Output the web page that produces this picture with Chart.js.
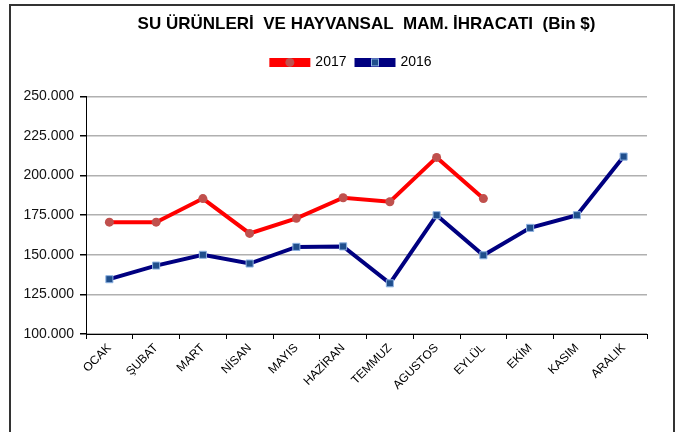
<!DOCTYPE html>
<html>
<head>
<meta charset="utf-8">
<script src="https://cdn.jsdelivr.net/npm/chart.js@4"></script>
<style>
  html, body { margin: 0; padding: 0; background: #fff; }
  #wrap { position: relative; width: 681px; height: 432px; overflow: hidden; }
  #frame { position: absolute; left: 9px; top: 4px; width: 666px; height: 460px; border: 2px solid #333; box-sizing: border-box; }
  canvas { position: absolute; left: 0; top: 0; }
</style>
</head>
<body>
<div id="wrap">
  <div id="frame"></div>
  <canvas id="c" width="681" height="432"></canvas>
</div>
<script>
// Months
const months = ['OCAK','ŞUBAT','MART','NİSAN','MAYIS','HAZİRAN','TEMMUZ','AGUSTOS','EYLÜL','EKİM','KASIM','ARALIK'];
// Exports (Bin $)
const exports2017 = [170600, 170600, 185500, 163500, 173000, 186000, 183500, 211500, 185500, null, null, null];
const exports2016 = [134600, 143200, 150000, 144500, 155000, 155300, 132000, 175000, 149700, 167000, 175000, 212000];
// Y tick labels
const yTickValues = [100000, 125000, 150000, 175000, 200000, 225000, 250000];
const yTickLabels = ['100.000','125.000','150.000','175.000','200.000','225.000','250.000'];

const FONT = "'Liberation Sans', Arial, sans-serif";
const LEGEND_SHIFT = 28;

const legendShift = {
  id: 'legendShift',
  afterLayout(chart) {
    const lg = chart.legend;
    if (!lg) return;
    lg.left += LEGEND_SHIFT;
    lg.right += LEGEND_SHIFT;
  }
};

const legendMarkers = {
  id: 'legendMarkers',
  afterDraw(chart) {
    const lg = chart.legend;
    if (!lg || !lg.legendHitBoxes) return;
    const ctx = chart.ctx;
    const bw = lg.options.labels.boxWidth;
    lg.legendHitBoxes.forEach((hb, i) => {
      const ds = chart.data.datasets[i];
      const cx = hb.left + bw / 2;
      const cy = hb.top + hb.height / 2;
      ctx.save();
      ctx.fillStyle = ds.pointBackgroundColor;
      ctx.strokeStyle = ds.pointBorderColor;
      ctx.lineWidth = ds.pointBorderWidth;
      if (ds.pointStyle === 'rect') {
        const s = ds.pointRadius * 1.4;
        ctx.fillRect(cx - s / 2, cy - s / 2, s, s);
        ctx.strokeRect(cx - s / 2, cy - s / 2, s, s);
      } else {
        ctx.beginPath();
        ctx.arc(cx, cy, ds.pointRadius, 0, Math.PI * 2);
        ctx.fill();
      }
      ctx.restore();
    });
  }
};

new Chart(document.getElementById('c'), {
  type: 'line',
  data: {
    labels: months,
    datasets: [
      {
        label: '2017',
        data: exports2017,
        borderColor: '#ff0000',
        backgroundColor: '#ff0000',
        borderWidth: 4,
        pointStyle: 'circle',
        pointRadius: 4.5,
        pointBackgroundColor: '#c0504d',
        pointBorderColor: '#c0504d',
        pointBorderWidth: 0,
        tension: 0,
        spanGaps: false
      },
      {
        label: '2016',
        data: exports2016,
        borderColor: '#000080',
        backgroundColor: '#000080',
        borderWidth: 4,
        pointStyle: 'rect',
        pointRadius: 5,
        pointBackgroundColor: '#1f4e8c',
        pointBorderColor: '#8fb4e3',
        pointBorderWidth: 1,
        tension: 0
      }
    ]
  },
  options: {
    responsive: false,
    animation: false,
    devicePixelRatio: 1,
    layout: { padding: { left: 0, right: 34, top: 0, bottom: 0 } },
    plugins: {
      title: {
        display: true,
        fullSize: false,
        text: 'SU ÜRÜNLERİ  VE HAYVANSAL  MAM. İHRACATI  (Bin $)',
        color: '#000',
        font: { family: FONT, size: 17, weight: 'bold', lineHeight: 1.2 },
        padding: { top: 14, bottom: 11 },
        align: 'center'
      },
      subtitle: {
        display: true,
        text: '',
        position: 'top',
        weight: 500,
        font: { size: 10, lineHeight: 1 },
        padding: { top: 3.5, bottom: 3.5 }
      },
      legend: {
        display: true,
        position: 'top',
        labels: {
          boxWidth: 37,
          boxHeight: 5,
          padding: 10,
          color: '#000',
          font: { family: FONT, size: 14 }
        }
      },
      tooltip: { enabled: false }
    },
    scales: {
      x: {
        offset: true,
        grid: { display: true, offset: true, drawOnChartArea: false, drawTicks: true, tickLength: 5, color: '#000', tickColor: '#000' },
        border: { display: true, color: '#000', width: 1 },
        ticks: {
          color: '#000',
          font: { family: FONT, size: 12 },
          minRotation: 45,
          maxRotation: 45,
          autoSkip: false,
          padding: 2
        },
        afterFit(s) { s.height = 98; }
      },
      y: {
        min: 100000,
        max: 250000,
        afterBuildTicks(s) { s.ticks = yTickValues.map(v => ({ value: v })); },
        grid: { color: '#b0b0b0', lineWidth: 1.5, tickColor: '#000', tickLength: 6, drawTicks: true },
        border: { display: true, color: '#000', width: 1 },
        ticks: {
          color: '#111',
          padding: 6,
          font: { family: FONT, size: 14 },
          callback(v) { const i = yTickValues.indexOf(v); return i >= 0 ? yTickLabels[i] : ''; }
        },
        afterFit(s) { s.width = 86; }
      }
    }
  },
  plugins: [legendShift, legendMarkers]
});
</script>
</body>
</html>
